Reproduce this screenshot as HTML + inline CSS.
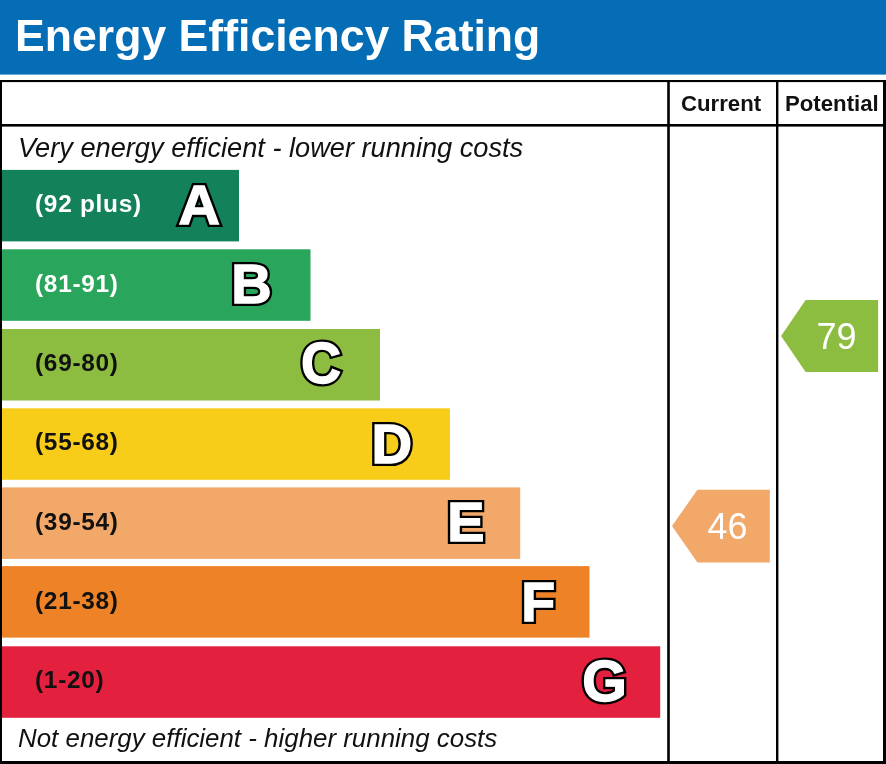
<!DOCTYPE html>
<html lang="en"><head><title>Energy Efficiency Rating</title><meta charset="utf-8">
<style>
html,body{margin:0;padding:0;background:#fff;}
body{width:886px;height:764px;position:relative;overflow:hidden;font-family:"Liberation Sans",sans-serif;}
.abs{position:absolute;will-change:transform;}
#title{left:14.9px;top:11.5px;color:#fff;font-weight:bold;font-size:44.6px;line-height:48px;white-space:nowrap;}
.rng{left:34.9px;font-weight:bold;font-size:24.4px;letter-spacing:0.72px;line-height:28px;white-space:nowrap;}
.it{font-style:italic;font-size:27.2px;line-height:30px;white-space:nowrap;color:#111;}
.col{font-weight:bold;font-size:22.2px;line-height:24px;white-space:nowrap;color:#111;}
svg{position:absolute;left:0;top:0;will-change:transform;}
.big{font-family:"Liberation Sans",sans-serif;font-weight:bold;}
.num{font-family:"Liberation Sans",sans-serif;font-size:36px;fill:#fff;}
</style></head><body>

<svg width="886" height="764" viewBox="0 0 886 764">
 <rect x="1" y="169.9" width="238.0" height="71.5" fill="#13825b"/>
 <rect x="1" y="249.3" width="309.5" height="71.5" fill="#2aa55c"/>
 <rect x="1" y="329.0" width="379.0" height="71.5" fill="#8cbd40"/>
 <rect x="1" y="408.3" width="449.0" height="71.5" fill="#f7cd1a"/>
 <rect x="1" y="487.4" width="519.2" height="71.5" fill="#f2a868"/>
 <rect x="1" y="566.1" width="588.5" height="71.5" fill="#ee8226"/>
 <rect x="1" y="646.3" width="659.2" height="71.5" fill="#e4203f"/>
 <rect x="0" y="0" width="886" height="74.6" fill="#046db5"/>
 <g fill="#000">
  <rect x="0" y="80" width="886" height="2.1"/>
  <rect x="0" y="80" width="2" height="684"/>
  <rect x="883" y="80" width="3" height="684"/>
  <rect x="0" y="761" width="886" height="3"/>
  <rect x="0" y="124" width="886" height="2.6"/>
  <rect x="667.2" y="80" width="2.6" height="684"/>
  <rect x="776" y="80" width="2.4" height="684"/>
 </g>
</svg>

<div class="abs" id="title">Energy Efficiency Rating</div>
<div class="abs col" id="cur" style="left:680.8px;top:91.7px">Current</div>
<div class="abs col" id="pot" style="left:785.1px;top:91.7px">Potential</div>

<div class="abs it" id="top" style="left:17.7px;top:133.2px">Very energy efficient - lower running costs</div>
<div class="abs it" id="bot" style="left:18.4px;top:722.7px;font-size:25.9px">Not energy efficient - higher running costs</div>


<div class="abs rng" id="r0" style="top:190.2px;color:#fff">(92 plus)</div>
<div class="abs rng" id="r1" style="top:269.7px;color:#fff">(81-91)</div>
<div class="abs rng" id="r2" style="top:349.2px;color:#111">(69-80)</div>
<div class="abs rng" id="r3" style="top:428.2px;color:#111">(55-68)</div>
<div class="abs rng" id="r4" style="top:507.7px;color:#111">(39-54)</div>
<div class="abs rng" id="r5" style="top:586.7px;color:#111">(21-38)</div>
<div class="abs rng" id="r6" style="top:666.2px;color:#111">(1-20)</div>

<svg width="886" height="764" viewBox="0 0 886 764">
<g class="big" text-anchor="middle" stroke-linejoin="miter" stroke-miterlimit="2.5">
 <g transform="translate(199.3,223.5) scale(1.035,1)" font-size="55.5"><text aria-hidden="true" x="0" y="0" fill="#000" stroke="#000" stroke-width="6.2">A</text><text x="0" y="0" fill="#fff" stroke="#fff" stroke-width="1.4">A</text></g>
 <g transform="translate(251.5,302.9) scale(0.992,1)" font-size="56.4"><text aria-hidden="true" x="0" y="0" fill="#000" stroke="#000" stroke-width="6.2">B</text><text x="0" y="0" fill="#fff" stroke="#fff" stroke-width="1.4">B</text></g>
 <g transform="translate(321.1,383.1) scale(0.977,1)" font-size="56.7"><text aria-hidden="true" x="0" y="0" fill="#000" stroke="#000" stroke-width="6.2">C</text><text x="0" y="0" fill="#fff" stroke="#fff" stroke-width="1.4">C</text></g>
 <g transform="translate(391.9,462.8) scale(1.012,1)" font-size="55.6"><text aria-hidden="true" x="0" y="0" fill="#000" stroke="#000" stroke-width="6.2">D</text><text x="0" y="0" fill="#fff" stroke="#fff" stroke-width="1.4">D</text></g>
 <g transform="translate(465.9,540.7) scale(1.01,1)" font-size="55.2"><text aria-hidden="true" x="0" y="0" fill="#000" stroke="#000" stroke-width="6.2">E</text><text x="0" y="0" fill="#fff" stroke="#fff" stroke-width="1.4">E</text></g>
 <g transform="translate(538.1,620.7) scale(1.005,1)" font-size="55.2"><text aria-hidden="true" x="0" y="0" fill="#000" stroke="#000" stroke-width="6.2">F</text><text x="0" y="0" fill="#fff" stroke="#fff" stroke-width="1.4">F</text></g>
 <g transform="translate(604.6,700.7) scale(0.995,1)" font-size="57.7"><text aria-hidden="true" x="0" y="0" fill="#000" stroke="#000" stroke-width="6.2">G</text><text x="0" y="0" fill="#fff" stroke="#fff" stroke-width="1.4">G</text></g>
</g>
<polygon points="672,526.1 697.4,489.8 769.8,489.8 769.8,562.4 697.4,562.4" fill="#f2a868"/>
<polygon points="781.1,335.9 805.6,299.9 878.1,299.9 878.1,371.9 805.6,371.9" fill="#8cbd40"/>
<text class="num" x="727.6" y="539" text-anchor="middle">46</text>
<text class="num" x="836.6" y="348.9" text-anchor="middle">79</text>
</svg>
</body></html>
